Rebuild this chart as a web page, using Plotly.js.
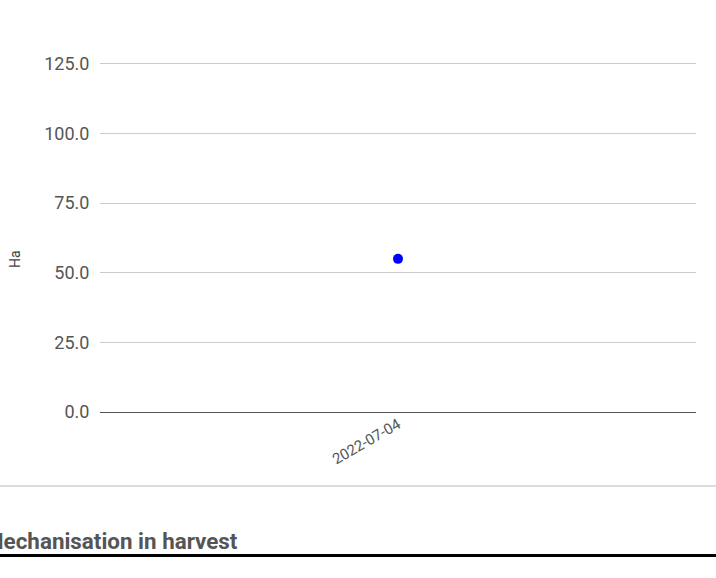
<!DOCTYPE html>
<html>
<head>
<meta charset="utf-8">
<script src="https://cdn.plot.ly/plotly-3.0.1.min.js"></script>
<style>
  html, body { margin: 0; padding: 0; background: #fff; }
  #chart { width: 716px; height: 578px; }
</style>
</head>
<body>
<div id="chart"></div>
<script>
// Data
const dates = ["2022-07-04"];
const hectares = [55];
const yTickValues = [0, 25, 50, 75, 100, 125];
const yTickLabels = ["0.0", "25.0", "50.0", "75.0", "100.0", "125.0"];
const yAxisTitle = "Ha";
const sectionTitle = "Mechanisation in harvest";

const W = 716, H = 578;
const mL = 100, mR = 20, mT = 50, mB = 166;
const pw = W - mL - mR, ph = H - mT - mB;
const px = (x) => (x - mL) / pw;
const py = (y) => (H - mB - y) / ph;

const trace = {
  x: dates,
  y: hectares,
  type: "scatter",
  mode: "markers",
  marker: { color: "#0000ff", size: 10 },
  hoverinfo: "x+y"
};

const layout = {
  width: W,
  height: H,
  margin: { l: mL, r: mR, t: mT, b: mB, pad: 0 },
  paper_bgcolor: "#ffffff",
  plot_bgcolor: "#ffffff",
  showlegend: false,
  font: { family: "Roboto, sans-serif", color: "#444444" },
  xaxis: {
    type: "category",
    tickangle: -30,
    tickfont: { size: 15, color: "#555555", family: "Roboto, sans-serif" },
    showgrid: false,
    zeroline: false,
    showline: false,
    ticks: "",
    ticklen: 0
  },
  yaxis: {
    range: [0, 130],
    tickvals: yTickValues,
    ticktext: yTickLabels,
    tickfont: { size: 18, color: "#555555", family: "Roboto, sans-serif" },
    gridcolor: "#cccccc",
    gridwidth: 1,
    zeroline: true,
    zerolinecolor: "#555555",
    zerolinewidth: 1,
    showline: false,
    ticks: "outside",
    ticklen: 6,
    tickcolor: "rgba(0,0,0,0)",
    automargin: false
  },
  shapes: [
    { type: "line", xref: "paper", yref: "paper", x0: px(0), x1: px(W), y0: py(486), y1: py(486),
      line: { color: "#bbbbbb", width: 1 } },
    { type: "line", xref: "paper", yref: "paper", x0: px(0), x1: px(W), y0: py(555.5), y1: py(555.5),
      line: { color: "#000000", width: 3 } }
  ],
  annotations: [
    { text: yAxisTitle, xref: "paper", yref: "paper", x: px(15), y: py(259),
      xanchor: "center", yanchor: "middle", showarrow: false, textangle: -90,
      font: { size: 14, color: "#444444", family: "Roboto, sans-serif" } },
    { text: "<b>" + sectionTitle + "</b>", xref: "paper", yref: "paper", x: px(-18), y: py(540.5),
      xanchor: "left", yanchor: "middle", showarrow: false,
      font: { size: 22.4, color: "#555555", family: "Roboto, sans-serif" } }
  ]
};

Plotly.newPlot("chart", [trace], layout, { displayModeBar: false, staticPlot: true });
</script>
</body>
</html>
